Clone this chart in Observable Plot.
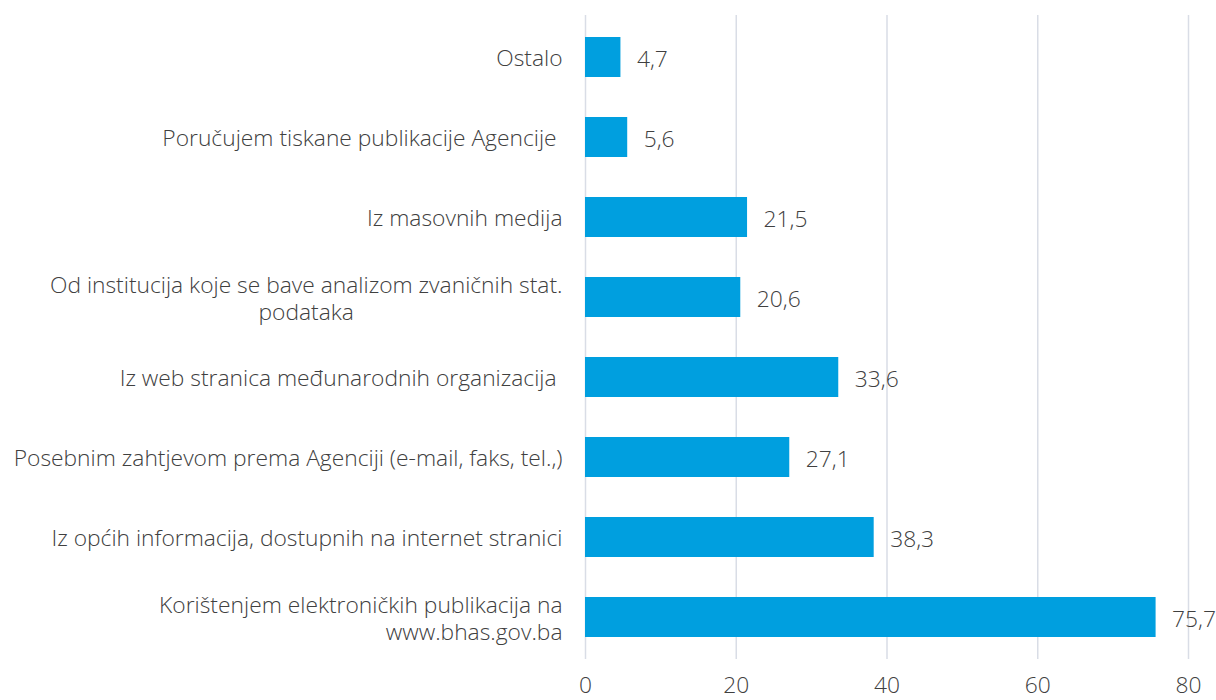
<!DOCTYPE html>
<html>
<head>
<meta charset="utf-8">
<script src="https://cdn.jsdelivr.net/npm/d3@7"></script>
<script src="https://cdn.jsdelivr.net/npm/@observablehq/plot@0.6"></script>
<style>
  html, body { margin: 0; padding: 0; background: #fff; }
  #chart svg { display: block; }
</style>
</head>
<body>
<div id="chart"></div>
<script>
const categories = [
  "Ostalo",
  "Poručujem tiskane publikacije Agencije\u00a0",
  "Iz masovnih medija",
  "Od institucija koje se bave analizom zvaničnih stat.\npodataka",
  "Iz web stranica međunarodnih organizacija\u00a0",
  "Posebnim zahtjevom prema Agenciji (e-mail, faks, tel.,)",
  "Iz općih informacija, dostupnih na internet stranici",
  "Korištenjem elektroničkih publikacija na\nwww.bhas.gov.ba"
];
const values = [4.7, 5.6, 21.5, 20.6, 33.6, 27.1, 38.3, 75.7];
const xTicks = [0, 20, 40, 60, 80];
const centeredLabels = ["Od institucija koje se bave analizom zvaničnih stat.\npodataka"];

const data = categories.map((c, i) => ({category: c, value: values[i]}));
const fmt = v => v.toFixed(1).replace(".", ",");
const FONT = "'Open Sans', 'Segoe UI', sans-serif";
const FS = 22.8;

const chart = Plot.plot({
  width: 1216,
  height: 700,
  marginLeft: 585,
  marginRight: 28,
  marginTop: 15,
  marginBottom: 41,
  style: {fontFamily: FONT, fontSize: FS + "px", color: "#404040", background: "#fff"},
  x: {domain: [0, 80], axis: null},
  y: {domain: categories, paddingInner: 0.5, paddingOuter: 0.25, axis: null},
  marks: [
    Plot.ruleX(xTicks, {stroke: "#d9dde6", strokeWidth: 1.5}),
    Plot.barX(data, {y: "category", x: "value", fill: "#009fdf"}),
    Plot.text(data, {y: "category", x: "value", text: d => fmt(d.value), textAnchor: "start", dx: 16, dy: 2, fill: "#404040", fontSize: FS, fontWeight: 300}),
    Plot.text(data, {y: "category", frameAnchor: "left", text: "category", textAnchor: "end", dx: -23, lineHeight: 1.2, fill: "#404040", fontSize: FS, fontWeight: 300, className: "ylab"}),
    Plot.axisX(xTicks, {tickSize: 0, tickPadding: 17, fontSize: FS, fontWeight: 300, fill: "#404040", label: null, tickFormat: d => String(d)})
  ]
});
document.getElementById("chart").appendChild(chart);

// Centre the lines of wrapped labels that are centred in the original
d3.select(chart).selectAll("g.ylab text").each(function() {
  const txt = this.textContent;
  const label = categories.find(c => c.replace("\n", "") === txt);
  if (!label || !centeredLabels.includes(label)) return;
  const tspans = Array.from(this.querySelectorAll("tspan"));
  if (!tspans.length) return;
  const w = d3.max(tspans, t => t.getComputedTextLength());
  const x0 = +(this.getAttribute("x") || 0);
  this.setAttribute("text-anchor", "middle");
  tspans.forEach(t => t.setAttribute("x", x0 - w / 2));
});
</script>
</body>
</html>
